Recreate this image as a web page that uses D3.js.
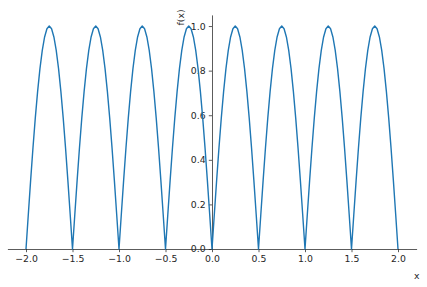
<!DOCTYPE html>
<html>
<head>
<meta charset="utf-8">
<style> body { margin: 0; background: #fff; } </style>
<script src="https://d3js.org/d3.v7.min.js"></script>
</head>
<body>
<svg id="chart" width="427" height="287"></svg>
<script>
    // sample points, step 0.025
    var xs = [
        -2, -1.975, -1.95, -1.925, -1.9, -1.875, -1.85, -1.825, -1.8, -1.775, -1.75, -1.725, -1.7, -1.675, -1.65, -1.625, -1.6, -1.575, -1.55, -1.525,
        -1.5, -1.475, -1.45, -1.425, -1.4, -1.375, -1.35, -1.325, -1.3, -1.275, -1.25, -1.225, -1.2, -1.175, -1.15, -1.125, -1.1, -1.075, -1.05, -1.025,
        -1, -0.975, -0.95, -0.925, -0.9, -0.875, -0.85, -0.825, -0.8, -0.775, -0.75, -0.725, -0.7, -0.675, -0.65, -0.625, -0.6, -0.575, -0.55, -0.525,
        -0.5, -0.475, -0.45, -0.425, -0.4, -0.375, -0.35, -0.325, -0.3, -0.275, -0.25, -0.225, -0.2, -0.175, -0.15, -0.125, -0.1, -0.075, -0.05, -0.025,
        0, 0.025, 0.05, 0.075, 0.1, 0.125, 0.15, 0.175, 0.2, 0.225, 0.25, 0.275, 0.3, 0.325, 0.35, 0.375, 0.4, 0.425, 0.45, 0.475,
        0.5, 0.525, 0.55, 0.575, 0.6, 0.625, 0.65, 0.675, 0.7, 0.725, 0.75, 0.775, 0.8, 0.825, 0.85, 0.875, 0.9, 0.925, 0.95, 0.975,
        1, 1.025, 1.05, 1.075, 1.1, 1.125, 1.15, 1.175, 1.2, 1.225, 1.25, 1.275, 1.3, 1.325, 1.35, 1.375, 1.4, 1.425, 1.45, 1.475,
        1.5, 1.525, 1.55, 1.575, 1.6, 1.625, 1.65, 1.675, 1.7, 1.725, 1.75, 1.775, 1.8, 1.825, 1.85, 1.875, 1.9, 1.925, 1.95, 1.975,
        2
    ];
    var ys = [
        0, 0.156, 0.309, 0.454, 0.588, 0.707, 0.809, 0.891, 0.951, 0.988, 1, 0.988, 0.951, 0.891, 0.809, 0.707, 0.588, 0.454, 0.309, 0.156,
        0, 0.156, 0.309, 0.454, 0.588, 0.707, 0.809, 0.891, 0.951, 0.988, 1, 0.988, 0.951, 0.891, 0.809, 0.707, 0.588, 0.454, 0.309, 0.156,
        0, 0.156, 0.309, 0.454, 0.588, 0.707, 0.809, 0.891, 0.951, 0.988, 1, 0.988, 0.951, 0.891, 0.809, 0.707, 0.588, 0.454, 0.309, 0.156,
        0, 0.156, 0.309, 0.454, 0.588, 0.707, 0.809, 0.891, 0.951, 0.988, 1, 0.988, 0.951, 0.891, 0.809, 0.707, 0.588, 0.454, 0.309, 0.156,
        0, 0.156, 0.309, 0.454, 0.588, 0.707, 0.809, 0.891, 0.951, 0.988, 1, 0.988, 0.951, 0.891, 0.809, 0.707, 0.588, 0.454, 0.309, 0.156,
        0, 0.156, 0.309, 0.454, 0.588, 0.707, 0.809, 0.891, 0.951, 0.988, 1, 0.988, 0.951, 0.891, 0.809, 0.707, 0.588, 0.454, 0.309, 0.156,
        0, 0.156, 0.309, 0.454, 0.588, 0.707, 0.809, 0.891, 0.951, 0.988, 1, 0.988, 0.951, 0.891, 0.809, 0.707, 0.588, 0.454, 0.309, 0.156,
        0, 0.156, 0.309, 0.454, 0.588, 0.707, 0.809, 0.891, 0.951, 0.988, 1, 0.988, 0.951, 0.891, 0.809, 0.707, 0.588, 0.454, 0.309, 0.156,
        0
    ];
    var xTicks = [-2, -1.5, -1, -0.5, 0, 0.5, 1, 1.5, 2];
    var yTicks = [0, 0.2, 0.4, 0.6, 0.8, 1.0];
    var xLabel = "x";
    var yLabel = "f(x)";

    var fontSize = 9.3;
    var tickLen = 3.2;

    const svg = d3.select('#chart');

    let x = d3.scaleLinear().domain([-2.2, 2.2]).range([7.4, 416.6]);
    let y = d3.scaleLinear().domain([0, 1.05]).range([249, 14.9]);

    const fmt = v => d3.format(".1f")(v).replace("-", "\u2212");

    // x axis sits on y = 0
    var xAxis = svg.append("g")
        .attr("transform", `translate(0,${y(0)})`)
        .call(d3.axisBottom(x).tickValues(xTicks).tickFormat(fmt)
            .tickSize(tickLen).tickPadding(3.2).tickSizeOuter(0));

    // y axis sits on x = 0
    var yAxis = svg.append("g")
        .attr("transform", `translate(${x(0)},0)`)
        .call(d3.axisLeft(y).tickValues(yTicks).tickFormat(fmt)
            .tickSize(tickLen).tickPadding(3.2).tickSizeOuter(0));

    [xAxis, yAxis].forEach(a => {
        a.selectAll("text")
            .style("font-family", "DejaVu Sans")
            .style("font-size", fontSize + "px")
            .style("fill", "#262626");
        a.selectAll("line").style("stroke", "#262626").style("stroke-width", 0.75);
        a.select("path.domain").style("stroke", "#262626").style("stroke-width", 0.75);
    });

    const line = d3.line()
        .x(i => x(xs[i]))
        .y(i => y(ys[i]));

    svg.append("path")
        .attr("d", line(d3.range(xs.length)))
        .attr("fill", "none")
        .attr("stroke", "#1f77b4")
        .attr("stroke-width", 1.4)
        .attr("stroke-linejoin", "round");

    svg.append("text")
        .attr("x", 416.7)
        .attr("y", 278.5)
        .attr("text-anchor", "middle")
        .style("font-family", "DejaVu Sans")
        .style("font-size", fontSize + "px")
        .style("fill", "#262626")
        .text(xLabel);

    svg.append("text")
        .attr("transform", "translate(183.5,25.5) rotate(-90)")
        .attr("text-anchor", "start")
        .style("font-family", "DejaVu Sans")
        .style("font-size", fontSize + "px")
        .style("fill", "#262626")
        .text(yLabel);
</script>
</body>
</html>
